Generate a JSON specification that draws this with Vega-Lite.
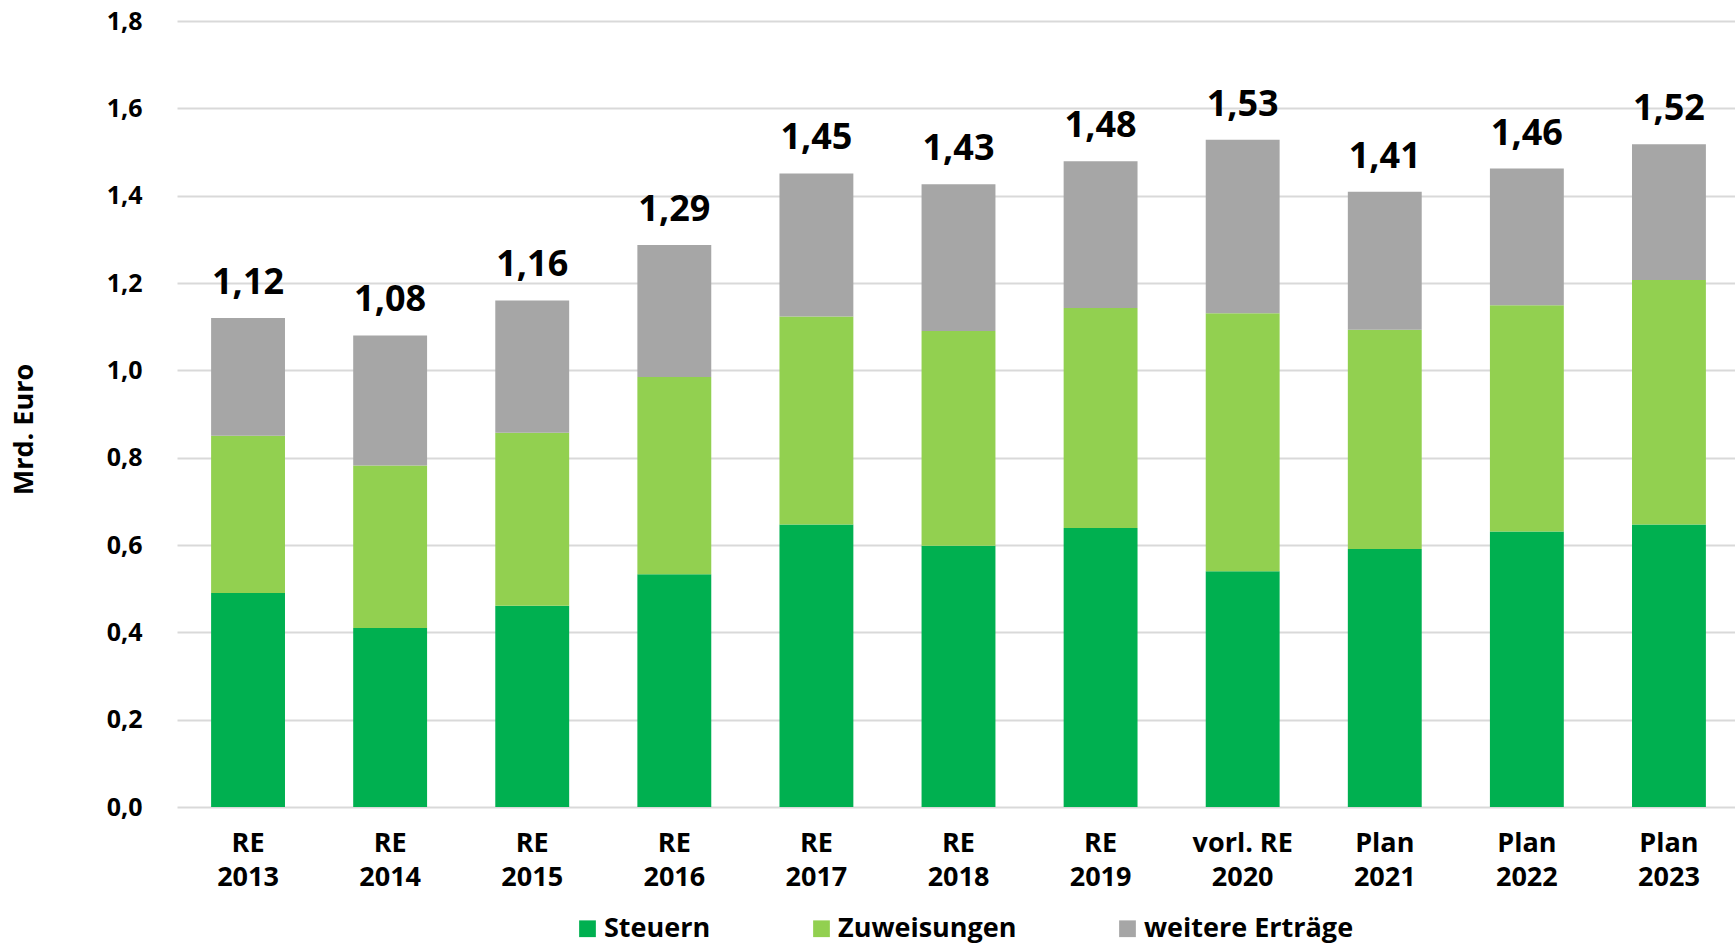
{
  "$schema": "https://vega.github.io/schema/vega-lite/v6.json",
  "width": 1563,
  "height": 786,
  "autosize": {"type": "none"},
  "padding": {"left": 177, "top": 21, "right": 0, "bottom": 138},
  "background": "white",
  "config": {
    "font": "Open Sans",
    "view": {"stroke": null},
    "locale": {"number": {"decimal": ",", "thousands": ".", "grouping": [3], "currency": ["", " €"]}}
  },
  "data": {
    "values": [
      {"cat": "RE|2013", "typ": "Steuern", "wert": 0.49, "ord": 1},
      {"cat": "RE|2013", "typ": "Zuweisungen", "wert": 0.36, "ord": 2},
      {"cat": "RE|2013", "typ": "weitere Erträge", "wert": 0.27, "ord": 3},
      {"cat": "RE|2014", "typ": "Steuern", "wert": 0.41, "ord": 1},
      {"cat": "RE|2014", "typ": "Zuweisungen", "wert": 0.372, "ord": 2},
      {"cat": "RE|2014", "typ": "weitere Erträge", "wert": 0.298, "ord": 3},
      {"cat": "RE|2015", "typ": "Steuern", "wert": 0.461, "ord": 1},
      {"cat": "RE|2015", "typ": "Zuweisungen", "wert": 0.396, "ord": 2},
      {"cat": "RE|2015", "typ": "weitere Erträge", "wert": 0.303, "ord": 3},
      {"cat": "RE|2016", "typ": "Steuern", "wert": 0.533, "ord": 1},
      {"cat": "RE|2016", "typ": "Zuweisungen", "wert": 0.452, "ord": 2},
      {"cat": "RE|2016", "typ": "weitere Erträge", "wert": 0.302, "ord": 3},
      {"cat": "RE|2017", "typ": "Steuern", "wert": 0.647, "ord": 1},
      {"cat": "RE|2017", "typ": "Zuweisungen", "wert": 0.476, "ord": 2},
      {"cat": "RE|2017", "typ": "weitere Erträge", "wert": 0.328, "ord": 3},
      {"cat": "RE|2018", "typ": "Steuern", "wert": 0.598, "ord": 1},
      {"cat": "RE|2018", "typ": "Zuweisungen", "wert": 0.492, "ord": 2},
      {"cat": "RE|2018", "typ": "weitere Erträge", "wert": 0.336, "ord": 3},
      {"cat": "RE|2019", "typ": "Steuern", "wert": 0.639, "ord": 1},
      {"cat": "RE|2019", "typ": "Zuweisungen", "wert": 0.504, "ord": 2},
      {"cat": "RE|2019", "typ": "weitere Erträge", "wert": 0.336, "ord": 3},
      {"cat": "vorl. RE|2020", "typ": "Steuern", "wert": 0.54, "ord": 1},
      {"cat": "vorl. RE|2020", "typ": "Zuweisungen", "wert": 0.591, "ord": 2},
      {"cat": "vorl. RE|2020", "typ": "weitere Erträge", "wert": 0.397, "ord": 3},
      {"cat": "Plan|2021", "typ": "Steuern", "wert": 0.591, "ord": 1},
      {"cat": "Plan|2021", "typ": "Zuweisungen", "wert": 0.502, "ord": 2},
      {"cat": "Plan|2021", "typ": "weitere Erträge", "wert": 0.316, "ord": 3},
      {"cat": "Plan|2022", "typ": "Steuern", "wert": 0.631, "ord": 1},
      {"cat": "Plan|2022", "typ": "Zuweisungen", "wert": 0.518, "ord": 2},
      {"cat": "Plan|2022", "typ": "weitere Erträge", "wert": 0.313, "ord": 3},
      {"cat": "Plan|2023", "typ": "Steuern", "wert": 0.647, "ord": 1},
      {"cat": "Plan|2023", "typ": "Zuweisungen", "wert": 0.56, "ord": 2},
      {"cat": "Plan|2023", "typ": "weitere Erträge", "wert": 0.311, "ord": 3}
    ]
  },
  "encoding": {
    "x": {
      "field": "cat",
      "type": "nominal",
      "sort": null,
      "scale": {"paddingInner": 0.48, "paddingOuter": 0.24},
      "axis": {
        "title": null,
        "labelAngle": 0,
        "labelExpr": "split(datum.label, '|')",
        "labelFontSize": 27,
        "labelFontWeight": "bold",
        "labelColor": "black",
        "labelLineHeight": 34,
        "labelPadding": 23,
        "ticks": false,
        "domain": false
      }
    }
  },
  "layer": [
    {
      "mark": {"type": "bar"},
      "encoding": {
        "y": {
          "field": "wert",
          "type": "quantitative",
          "aggregate": "sum",
          "stack": "zero",
          "scale": {"domain": [0, 1.8], "nice": false},
          "axis": {
            "title": "Mrd. Euro",
            "titleFontSize": 27,
            "titleFontWeight": "bold",
            "titleColor": "black",
            "titlePadding": 68,
            "titleY": 408,
            "values": [0, 0.2, 0.4, 0.6, 0.8, 1.0, 1.2, 1.4, 1.6, 1.8],
            "format": ".1f",
            "labelFontSize": 25,
            "labelFontWeight": "bold",
            "labelColor": "black",
            "labelPadding": 35,
            "ticks": false,
            "domain": false,
            "grid": true,
            "gridColor": "#D9D9D9",
            "gridWidth": 2
          }
        },
        "color": {
          "field": "typ",
          "type": "nominal",
          "scale": {
            "domain": ["Steuern", "Zuweisungen", "weitere Erträge"],
            "range": ["#00B050", "#92D050", "#A6A6A6"]
          },
          "legend": {
            "title": null,
            "orient": "none",
            "legendX": 397,
            "legendY": 894,
            "direction": "horizontal",
            "symbolType": "square",
            "symbolSize": 280,
            "symbolStrokeWidth": 0,
            "labelFontSize": 27,
            "labelFontWeight": "bold",
            "labelColor": "black",
            "labelOffset": 3,
            "labelLimit": 0,
            "columnPadding": 97
          }
        },
        "order": {"field": "ord", "type": "quantitative"}
      }
    },
    {
      "mark": {"type": "text", "fontSize": 36, "fontWeight": "bold", "color": "black", "baseline": "alphabetic", "dy": -24},
      "encoding": {
        "y": {"field": "wert", "type": "quantitative", "aggregate": "sum"},
        "text": {"field": "wert", "type": "quantitative", "aggregate": "sum", "format": ".2f"}
      }
    }
  ]
}
